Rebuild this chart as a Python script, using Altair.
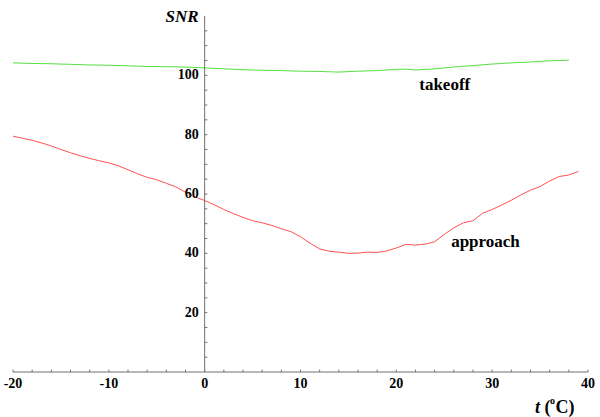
import altair as alt
import pandas as pd

# Approach curve (red)
approach_t = list(range(-20, 40))
approach_snr = [79.5, 78.8, 78.1, 77.2, 76.2, 75.0, 73.9, 72.9, 72.0, 71.2,
                70.5, 69.5, 68.2, 66.8, 65.6, 64.8, 63.6, 62.4, 60.6, 59.0,
                57.8, 56.4, 54.8, 53.4, 52.1, 51.0, 50.3, 49.4, 48.3, 47.3,
                45.6, 43.4, 41.5, 40.7, 40.4, 40.0, 40.1, 40.4, 40.3, 40.8,
                41.8, 43.0, 42.8, 43.1, 43.9, 46.4, 48.6, 50.3, 51.0, 53.5,
                54.8, 56.3, 57.9, 59.7, 61.3, 62.5, 64.4, 65.9, 66.4, 67.6]

# Takeoff curve (green)
takeoff_t = [-20, -18, -16, -14, -12, -10, -8, -6, -4, -2, 0, 2, 4, 6, 8, 10,
             12, 14, 16, 18, 20, 21, 22, 24, 26, 28, 30, 32, 34, 36, 38]
takeoff_snr = [104.2, 104.0, 103.9, 103.7, 103.5, 103.4, 103.2, 103.0, 102.9,
               102.8, 102.5, 102.2, 101.9, 101.7, 101.6, 101.4, 101.3, 101.1,
               101.4, 101.6, 102.0, 102.1, 101.8, 102.2, 102.8, 103.3, 103.8,
               104.2, 104.5, 104.9, 105.1]

x_major = [-20, -10, 0, 10, 20, 30, 40]
x_major_labels = ["-20", "-10", "0", "10", "20", "30", "40"]
x_minor = list(range(-20, 41, 2))
y_major = [20, 40, 60, 80, 100]
y_major_labels = ["20", "40", "60", "80", "100"]
y_minor = list(range(5, 120, 5))

X_DOM = [-20, 40]
Y_DOM = [0, 120]

df_app = pd.DataFrame({"t": approach_t, "snr": approach_snr})
df_tko = pd.DataFrame({"t": takeoff_t, "snr": takeoff_snr})

SERIF = "Liberation Serif"
AXIS_COLOR = "#707070"

xs = alt.Scale(domain=X_DOM, nice=False, zero=False)
ys = alt.Scale(domain=Y_DOM, nice=False, zero=False)

line_app = alt.Chart(df_app).mark_line(color="#ff5050", strokeWidth=1).encode(
    x=alt.X("t:Q", scale=xs, axis=None),
    y=alt.Y("snr:Q", scale=ys, axis=None),
)
line_tko = alt.Chart(df_tko).mark_line(color="#55e040", strokeWidth=1).encode(
    x=alt.X("t:Q", scale=xs, axis=None),
    y=alt.Y("snr:Q", scale=ys, axis=None),
)

# axis lines
axes_df = pd.DataFrame({"x": [X_DOM[0], 0], "x2": [X_DOM[1], 0],
                        "y": [0, Y_DOM[0]], "y2": [0, Y_DOM[1]]})
axis_lines = alt.Chart(axes_df).mark_rule(color=AXIS_COLOR, strokeWidth=1).encode(
    x="x:Q", x2="x2:Q", y="y:Q", y2="y2:Q"
)

# ticks
xt = alt.Chart(pd.DataFrame({"v": x_minor})).mark_rule(color=AXIS_COLOR, strokeWidth=1).encode(
    x="v:Q", y=alt.datum(0), y2=alt.datum(0.8)
)
yt = alt.Chart(pd.DataFrame({"v": y_minor})).mark_rule(color=AXIS_COLOR, strokeWidth=1).encode(
    y="v:Q", x=alt.datum(0), x2=alt.datum(0.28)
)

# tick labels
xl = alt.Chart(pd.DataFrame({"v": x_major, "lab": x_major_labels})).mark_text(
    font=SERIF, fontWeight="bold", fontSize=14, color="black",
    align="center", baseline="middle", dy=12
).encode(x="v:Q", y=alt.datum(0), text="lab:N")
yl = alt.Chart(pd.DataFrame({"v": y_major, "lab": y_major_labels})).mark_text(
    font=SERIF, fontWeight="bold", fontSize=14, color="black",
    align="right", baseline="middle", dx=-6
).encode(y="v:Q", x=alt.datum(0), text="lab:N")

# axis titles
snr_title = alt.Chart(pd.DataFrame({"s": ["SNR"]})).mark_text(
    font=SERIF, fontWeight="bold", fontStyle="italic", fontSize=17, color="black",
    align="right", baseline="middle", dx=-6, dy=1
).encode(x=alt.datum(0), y=alt.datum(120), text="s:N")

t1 = alt.Chart(pd.DataFrame({"s": ["t"]})).mark_text(
    font=SERIF, fontWeight="bold", fontStyle="italic", fontSize=18, color="black",
    align="left", baseline="alphabetic", dx=-53, dy=41
).encode(x=alt.datum(40), y=alt.datum(0), text="s:N")
t2 = alt.Chart(pd.DataFrame({"s": ["("]})).mark_text(
    font=SERIF, fontWeight="bold", fontSize=18, color="black",
    align="left", baseline="alphabetic", dx=-43.5, dy=41
).encode(x=alt.datum(40), y=alt.datum(0), text="s:N")
t3 = alt.Chart(pd.DataFrame({"s": ["o"]})).mark_text(
    font=SERIF, fontWeight="bold", fontSize=10, color="black",
    align="left", baseline="alphabetic", dx=-38, dy=32
).encode(x=alt.datum(40), y=alt.datum(0), text="s:N")
t4 = alt.Chart(pd.DataFrame({"s": ["C)"]})).mark_text(
    font=SERIF, fontWeight="bold", fontSize=18, color="black",
    align="left", baseline="alphabetic", dx=-32.5, dy=41
).encode(x=alt.datum(40), y=alt.datum(0), text="s:N")

# series labels
lab_df = pd.DataFrame({"t": [25.05, 29.3], "snr": [96.7, 43.7],
                       "name": ["takeoff", "approach"]})
labels = alt.Chart(lab_df).mark_text(
    font=SERIF, fontWeight="bold", fontSize=17, color="black",
    align="center", baseline="middle"
).encode(x="t:Q", y="snr:Q", text="name:N")

chart = alt.layer(
    line_tko, line_app, axis_lines, xt, yt, xl, yl, snr_title,
    t1, t2, t3, t4, labels
).properties(
    width=575, height=356,
    autosize=alt.AutoSizeParams(type="none"),
    padding={"left": 13, "top": 16, "right": 12, "bottom": 45},
    background="white",
).configure_view(stroke=None)

chart.save("out.html", embed_options={"renderer": "svg", "actions": False})
